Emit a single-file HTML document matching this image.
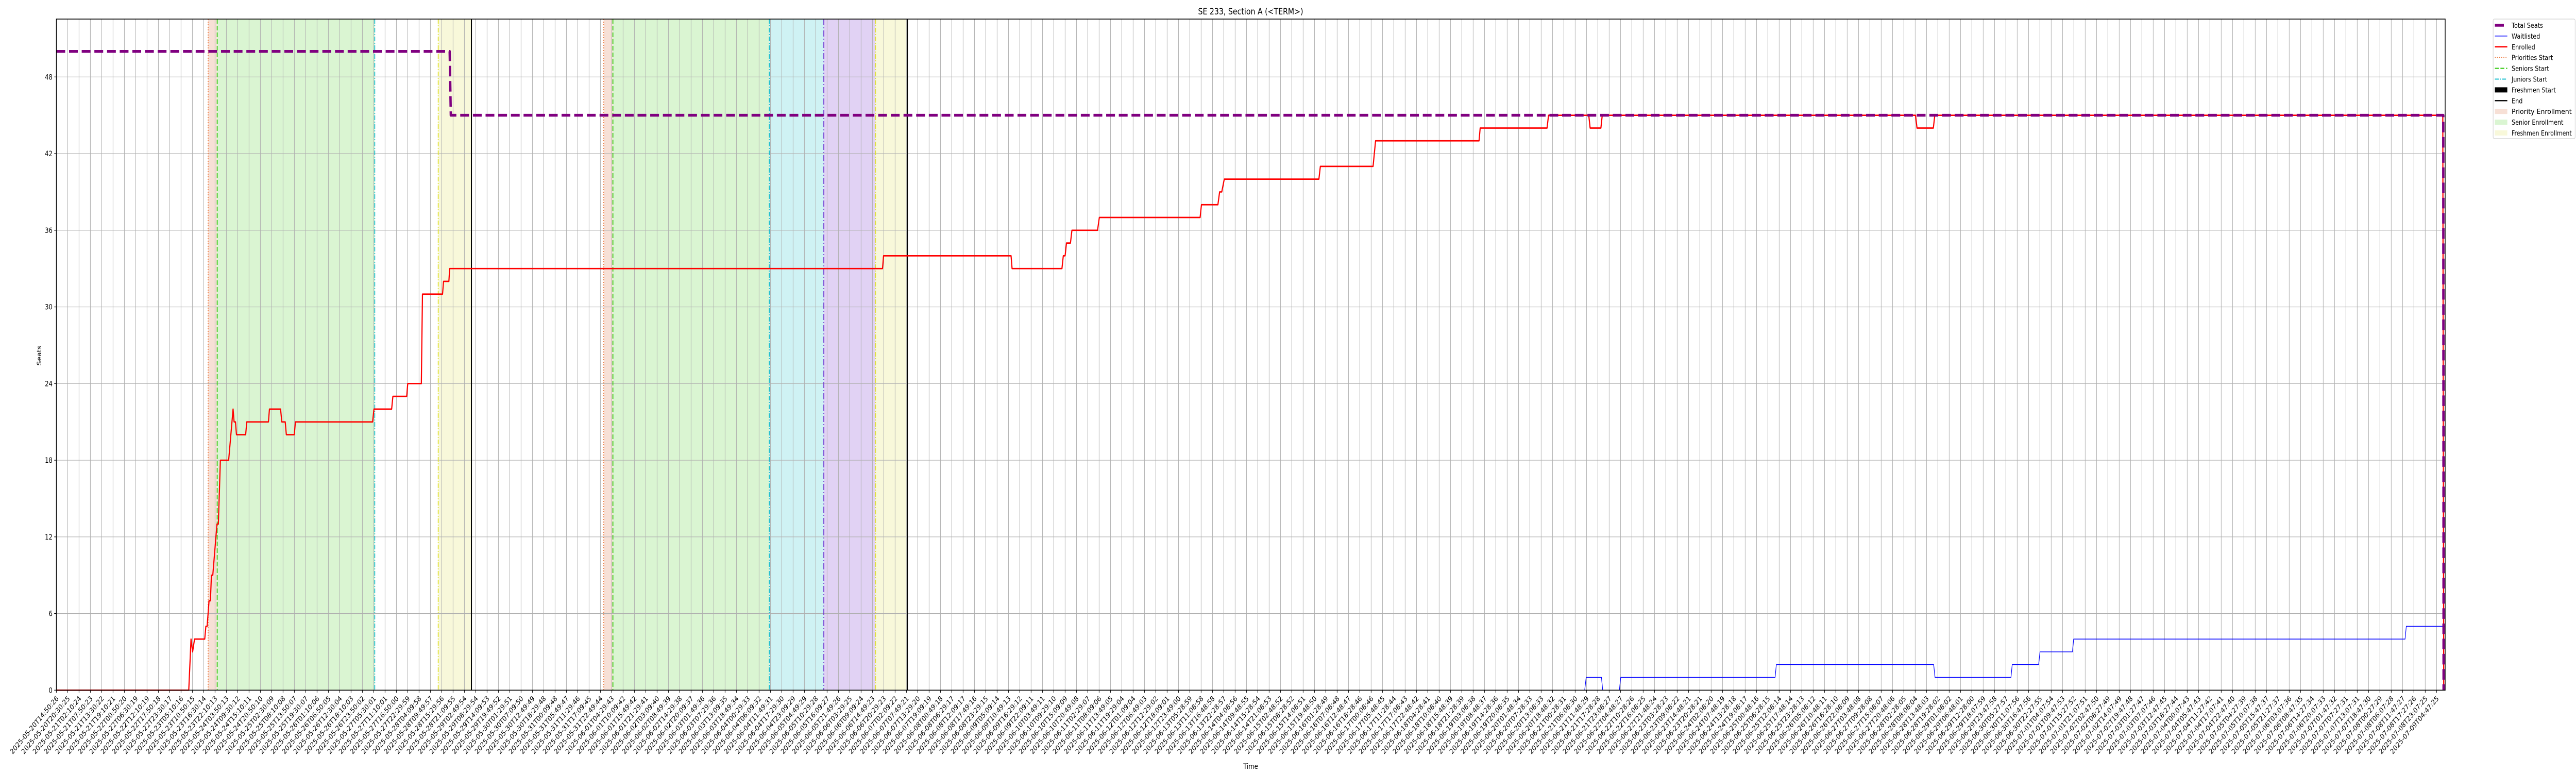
<!DOCTYPE html>
<html><head><meta charset="utf-8"><style>
html,body{margin:0;padding:0;background:#fff;overflow:hidden;width:100vw;height:100vh;}
svg{display:block;font-family:"DejaVu Sans","Liberation Sans",sans-serif;overflow:hidden;width:100%;height:100%;}
</style></head><body>
<svg id="chart" viewBox="0 0 6000 1500" preserveAspectRatio="none" xmlns="http://www.w3.org/2000/svg">
<text x="2913" y="28" font-size="17" text-anchor="middle">SE 233, Section A (&lt;TERM&gt;)</text>
<text x="0" y="0" font-size="14" text-anchor="middle" transform="translate(96,690) rotate(-90)">Seats</text>
<text x="2913" y="1492" font-size="14" text-anchor="middle">Time</text>
<g id="spans"></g>
<g id="grid"></g>
<g id="vlines"></g>
<g id="series"></g>
<g id="axes"></g>
<g id="legend"></g>
</svg>
<script>
// ---- data (x in tick-index units, y in seats) ----
const enrolledT = [0,11.68,11.88,12.02,12.19,13.09,13.19,13.30,13.47,13.59,13.68,13.80,14.17,14.29,14.47,15.20,15.59,15.68,15.80,15.89,16.70,16.80,18.71,18.80,19.78,19.89,20.19,20.29,20.99,21.09,27.90,28.02,29.58,29.69,30.91,31.00,32.20,32.30,34.07,34.16,34.63,34.70,72.89,72.98,84.23,84.32,88.72,88.84,89.00,89.12,89.47,89.60,91.86,92.02,100.91,101.03,102.48,102.63,102.82,103.04,111.39,111.52,116.17,116.39,125.52,125.62,131.52,131.65,135.20,135.32,136.27,136.39,164.03,164.16,165.60,165.73,210.55,210.63];
const enrolledV = [0,0,4,3,4,4,5,5,7,7,9,9,13,13,18,18,22,21,21,20,20,21,21,22,22,21,21,20,20,21,21,22,22,23,23,24,24,31,31,32,32,33,33,34,34,33,33,34,34,35,35,36,36,37,37,38,38,39,39,40,40,41,41,43,43,44,44,45,45,44,44,45,45,44,44,45,45,0];
const waitT = [0,134.84,134.97,136.32,136.43,137.90,138.02,151.64,151.75,165.63,165.75,172.45,172.56,174.89,175.01,177.87,177.98,207.22,207.33,210.76];
const waitV = [0,0,1,1,0,0,1,1,2,2,1,1,2,2,3,3,4,4,5,5];
const totalT = [0,34.70,34.80,210.59,210.62];
const totalV = [50,50,45,45,0];
const spanStart = [13.39,14.19,33.69,48.29,49.10,62.90,67.71,72.27];
const spanEnd   = [14.19,28.09,36.62,49.10,62.90,67.71,72.27,75.08];
const spanKind  = ['priority','senior','freshmen','priority','senior','junior','sophomore','freshmen'];
const lineT    = [13.39,14.19,28.09,33.69,36.62,48.29,49.10,62.90,67.71,72.27,75.08];
const lineKind = ['priorities','seniors','juniors','freshmen','end','priorities','seniors','juniors','sophomores','freshmen','end'];
const yTicks = [0,6,12,18,24,30,36,42,48];
const tickStart = '2025-05-20T14:50:26';
const tickEnd = '2025-07-09T04:47:25';
const tickCount = 211;

// ---- scales ----
const X0=131.3, X1=5695.3, TMAX=210.76, Y0=1339.3, YTOP=37, VMAX=52.53;
const xs = t => X0 + t*(X1-X0)/TMAX;
const ys = v => Y0 - v*(Y0-YTOP)/VMAX;
const NS='http://www.w3.org/2000/svg';
function mk(tag, parent, attrs){const e=document.createElementNS(NS,tag);for(const k in attrs)e.setAttribute(k,attrs[k]);parent.appendChild(e);return e;}

const spanFill={priority:'#f7e0d6',senior:'#daf5d2',junior:'#cff2f4',sophomore:'#e1d2f4',freshmen:'#f8f8da'};
const gS=document.getElementById('spans');
spanStart.forEach((s,i)=>{
  const r=mk('rect',gS,{x:xs(s),y:YTOP,width:xs(spanEnd[i])-xs(s),height:Y0-YTOP,fill:spanFill[spanKind[i]]});
  
  
});

// grid
const gG=document.getElementById('grid');
for(let i=0;i<tickCount;i++){
  const l=mk('line',gG,{x1:xs(i),x2:xs(i),y1:YTOP,y2:Y0,stroke:'#b0b0b0','stroke-width':1.2});
  
  
}
yTicks.forEach(v=>{
  const l=mk('line',gG,{x1:X0,x2:X1,y1:ys(v),y2:ys(v),stroke:'#b0b0b0','stroke-width':1.2});
  
  
});

// phase lines
const lineStyle={
  priorities:{c:'#ec7a40',d:'2,3',w:2},
  seniors:{c:'#3fcc1c',d:'9,4',w:2.2},
  juniors:{c:'#17becf',d:'9,3,2,3',w:2},
  sophomores:{c:'#6a2dd0',d:'12,4,2,4',w:2},
  freshmen:{c:'#e0e030',d:'9,3,2,3',w:2},
  end:{c:'#000000',d:'none',w:2.4}
};
const gV=document.getElementById('vlines');
lineT.forEach((t,i)=>{
  const s=lineStyle[lineKind[i]];
  const l=mk('line',gV,{x1:xs(t),x2:xs(t),y1:YTOP,y2:Y0,stroke:s.c,'stroke-width':s.w,'stroke-dasharray':s.d});
  
  
});

// series
const gSe=document.getElementById('series');
function poly(T,V,attrs,name){
  const pts=T.map((t,i)=>xs(t).toFixed(2)+','+ys(V[i]).toFixed(2)).join(' ');
  const p=mk('polyline',gSe,Object.assign({points:pts,fill:'none','stroke-linejoin':'round'},attrs));
  
  
}
poly(waitT,waitV,{stroke:'#0000ff','stroke-width':1.4},'waitlisted-line');
poly(enrolledT,enrolledV,{stroke:'#ff0000','stroke-width':2.7},'enrolled-line');
poly(totalT,totalV,{stroke:'#800080','stroke-width':5.5,'stroke-dasharray':'20.5,9'},'total-seats-line');

// axes
const gA=document.getElementById('axes');
const frame=mk('rect',gA,{x:X0,y:YTOP,width:X1-X0,height:Y0-YTOP,fill:'none',stroke:'#000','stroke-width':1.6});


yTicks.forEach(v=>{
  const tk=mk('line',gA,{x1:X0-5,x2:X0,y1:ys(v),y2:ys(v),stroke:'#000','stroke-width':1.2});
  
  
  const tx=mk('text',gA,{x:X0-9,y:ys(v)+5,'font-size':14,'text-anchor':'end'});
  tx.textContent=String(v);
  
  
});
const t0=Date.parse(tickStart+'Z'), t1=Date.parse(tickEnd+'Z');
const pad=n=>String(n).padStart(2,'0');
for(let i=0;i<tickCount;i++){
  const x=xs(i);
  const tk=mk('line',gA,{x1:x,x2:x,y1:Y0,y2:Y0+5,stroke:'#000','stroke-width':1.2});
  
  
  const d=new Date(t0+(t1-t0)*i/(tickCount-1));
  const lab=d.getUTCFullYear()+'-'+pad(d.getUTCMonth()+1)+'-'+pad(d.getUTCDate())+'T'+pad(d.getUTCHours())+':'+pad(d.getUTCMinutes())+':'+pad(d.getUTCSeconds());
  const tx=mk('text',gA,{x:0,y:0,'font-size':14,'text-anchor':'end',transform:'translate('+(x+6)+','+(Y0+17)+') rotate(-45)'});
  tx.textContent=lab;
  
  
}

// legend
const gL=document.getElementById('legend');
const box=mk('rect',gL,{x:5807,y:37,width:191,height:232,rx:3,fill:'#fff',stroke:'#d0d0d0','stroke-width':1.2});


const legLabels=['Total Seats','Waitlisted','Enrolled','Priorities Start','Seniors Start','Juniors Start','Freshmen Start','End','Priority Enrollment','Senior Enrollment','Freshmen Enrollment'];
const legType=['total','wait','enr','priorities','seniors','juniors','freshmen','end','fpriority','fsenior','ffreshmen'];
legLabels.forEach((lab,i)=>{
  const cy=49+i*20.9;
  const ty=legType[i];
  let h;
  if(ty==='total') h=mk('line',gL,{x1:5811,x2:5832,y1:cy,y2:cy,stroke:'#800080','stroke-width':5.5});
  else if(ty==='wait') h=mk('line',gL,{x1:5811,x2:5840,y1:cy,y2:cy,stroke:'#0000ff','stroke-width':1.4});
  else if(ty==='enr') h=mk('line',gL,{x1:5811,x2:5840,y1:cy,y2:cy,stroke:'#ff0000','stroke-width':2.7});
  else if(ty[0]==='f'){const k={fpriority:'priority',fsenior:'senior',ffreshmen:'freshmen'}[ty];h=mk('rect',gL,{x:5811,y:cy-5,width:29,height:10,fill:spanFill[k]});}
  else {const s=lineStyle[ty];h=mk('line',gL,{x1:5811,x2:5840,y1:cy,y2:cy,stroke:s.c,'stroke-width':s.w,'stroke-dasharray':s.d});}
  
  
  const tx=mk('text',gL,{x:5850,y:cy+5,'font-size':13.5});
  if(lab.length>17){tx.setAttribute('textLength','140');tx.setAttribute('lengthAdjust','spacingAndGlyphs');}
  tx.textContent=lab;
  
  
});
</script>
</body></html>
